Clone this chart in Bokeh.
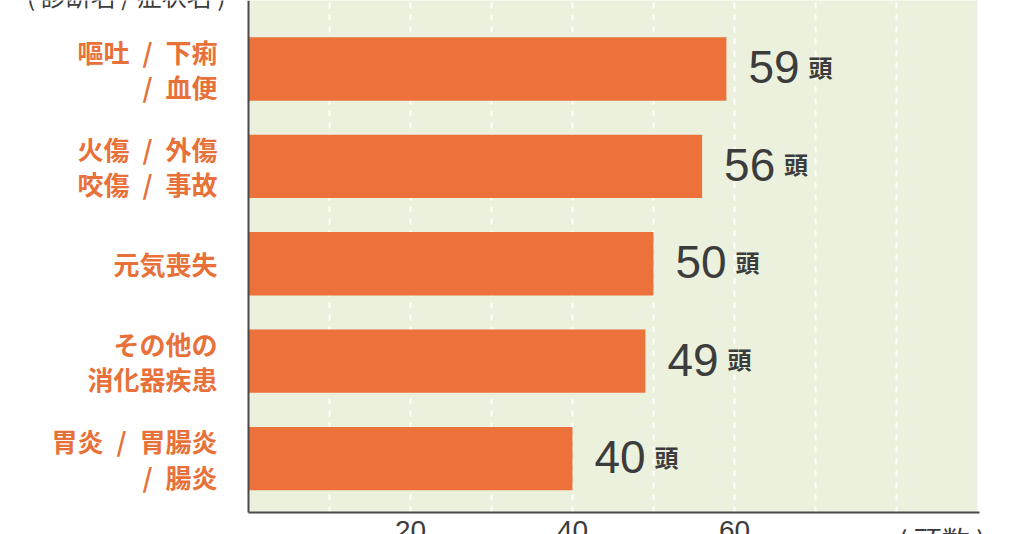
from bokeh.plotting import figure
from bokeh.models import Range1d, FixedTicker, LinearAxis, ColumnDataSource
from bokeh.core.properties import value
from bokeh.embed import file_html
from bokeh.resources import INLINE

# ---- data ----
S = "\u2002/\u2002"
categories = ["嘔吐" + S + "下痢\n/\u2002血便", "火傷" + S + "外傷\n咬傷" + S + "事故", "元気喪失",
              "その他の\n消化器疾患", "胃炎" + S + "胃腸炎\n/\u2002腸炎"]
counts = [59, 56, 50, 49, 40]
unit_suffix = "頭"
x_tick_values = [20, 40, 60]
x_tick_labels = ["20", "40", "60"]
grid_values = [10, 20, 30, 40, 50, 60, 70, 80]
y_title = "( 診断名 / 症状名 )"
x_unit_label = "( 頭数 )"
x_max = 90

BAR = "#EC713B"
LABEL = "#E8713A"
DARK = "#3C3C3C"
BG = "#EBF1DC"
AXIS = "#4A4A4A"

W, H = 1024, 534
n = len(categories)
ys = list(range(n, 0, -1))

src = ColumnDataSource(dict(y=ys, v=counts, num=[str(c) for c in counts], unit=[unit_suffix] * n))

# pixel layout of the (cropped) chart
ax_px_x = 248          # y axis position from left
px_x = 8.1             # pixels per count
ax_px_y = 512          # x axis position from top
px_y = 97.4            # pixels per category step
top_val = n + 0.703    # category value at the top edge
base_val = top_val - ax_px_y / px_y
bot_val = top_val - H / px_y

p = figure(width=W, height=H, output_backend="svg", toolbar_location=None,
           x_range=Range1d(-ax_px_x / px_x, (W - ax_px_x) / px_x),
           y_range=Range1d(bot_val, top_val),
           x_axis_type=None, y_axis_type=None,
           min_border_left=0, min_border_right=0, min_border_top=0, min_border_bottom=0)
p.outline_line_color = None
p.background_fill_color = "white"
p.border_fill_color = "white"
p.xgrid.visible = False
p.ygrid.visible = False

# plot background
p.quad(left=[0], right=[x_max], bottom=[base_val], top=[top_val + 1], fill_color=BG, line_color=None)

# grid
p.segment(x0=grid_values, x1=grid_values, y0=[base_val] * len(grid_values), y1=[top_val + 1] * len(grid_values),
          line_color="white", line_width=2, line_dash="6 6")

# bars
p.hbar(y="y", right="v", left=0, height=0.65, source=src, fill_color=BAR, line_color=None)

# value labels
p.text(x="v", y="y", text="num", source=src, x_offset=22, y_offset=-1.5,
       text_font=value("Liberation Sans"), text_font_size="46px", text_color=DARK,
       text_align="left", text_baseline="alphabetic")
p.text(x="v", y="y", text="unit", source=src, x_offset=82, y_offset=-2.5,
       text_font=value("Noto Sans CJK JP"), text_font_size="24px", text_font_style="bold",
       text_color=DARK, text_align="left", text_baseline="alphabetic")

# left axis with category labels
yax = LinearAxis(ticker=FixedTicker(ticks=ys), fixed_location=0, bounds=(base_val, top_val + 1),
                 major_label_overrides={y: c for y, c in zip(ys, categories)})
yax.axis_line_color = AXIS
yax.axis_line_width = 2
yax.major_tick_line_color = None
yax.major_tick_in = 0
yax.major_tick_out = 0
yax.minor_tick_line_color = None
yax.major_label_standoff = 31
yax.major_label_text_font = "Noto Sans CJK JP"
yax.major_label_text_font_style = "bold"
yax.major_label_text_font_size = "26px"
yax.major_label_text_color = LABEL
yax.major_label_text_line_height = 0.95
p.add_layout(yax, "left")

# bottom axis
xax = LinearAxis(ticker=FixedTicker(ticks=x_tick_values), fixed_location=base_val, bounds=(0, x_max + 0.3),
                 major_label_overrides={v: t for v, t in zip(x_tick_values, x_tick_labels)})
xax.axis_line_color = AXIS
xax.axis_line_width = 2
xax.major_tick_line_color = None
xax.major_tick_in = 0
xax.major_tick_out = 0
xax.minor_tick_line_color = None
xax.major_label_standoff = 8
xax.major_label_text_font = "Liberation Sans"
xax.major_label_text_font_size = "28px"
xax.major_label_text_color = DARK
p.add_layout(xax, "below")

# unit label at right end of x axis
p.text(x=[80.2], y=[base_val], text=[x_unit_label], y_offset=7,
       text_font=value("Noto Sans CJK JP"), text_font_size="28px", text_color=DARK,
       text_align="left", text_baseline="top")

# axis title at top left (cropped by the top edge)
p.text(x=[-2.8], y=[top_val], text=[y_title], y_offset=-6,
       text_font=value("Noto Sans CJK JP"), text_font_size="25px", text_color=DARK,
       text_align="right", text_baseline="alphabetic")

open("out.html", "w").write(file_html(p, INLINE))
